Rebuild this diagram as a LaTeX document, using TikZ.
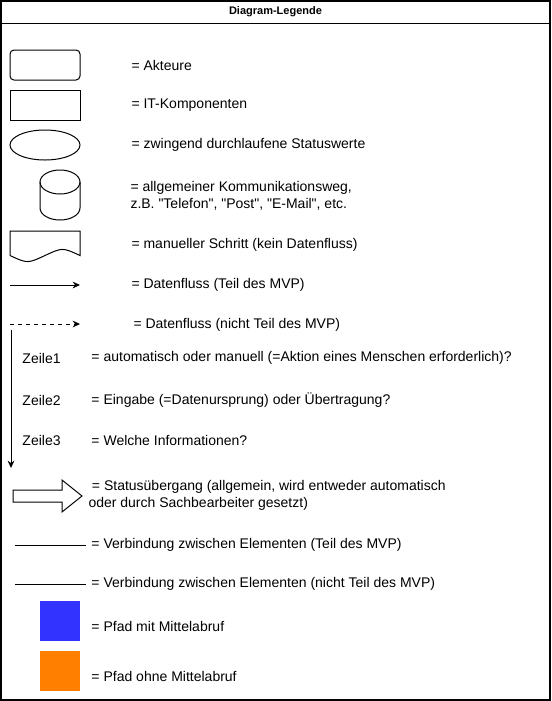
\documentclass[tikz,border=0pt]{standalone}
\usepackage{fontspec}
\setmainfont{Liberation Sans}
\usetikzlibrary{arrows.meta}
\usetikzlibrary{shapes.geometric}
\usetikzlibrary{positioning}

\begin{document}
\begin{tikzpicture}[x=0.75pt, y=-0.75pt, line width=0.75pt, % 1 Einheit = 1 Pixel
    txt/.style={anchor=west, inner sep=0pt, align=left, font=\fontsize{10.5}{12.75}\selectfont},
    symbol/.style={draw, minimum width=52.5pt, minimum height=22.5pt, inner sep=0pt},
    pfeil/.style={-{Stealth[length=5.5pt,width=5pt]}}]
\useasboundingbox (0,0) rectangle (551,701);
% Rahmen und Titel
    \draw[line width=1pt] (1,1) rectangle (550,700);
    \draw (1,23) -- (550,23);
    \node[font=\bfseries\fontsize{8.25}{10}\selectfont] (titel) at (275.5,12) {Diagram-Legende};
    % Symbole
    \node[symbol, rounded corners=3pt] (akteur) at (45,65) {};
    \node[symbol] (itkomp) at (45,105) {};
    \node[symbol, ellipse] (status) at (45,145) {};
    \draw (60,182) ellipse [x radius=20, y radius=12]; % Zylinder
    \draw (40,182) -- (40,208) arc[start angle=180, end angle=0, x radius=20, y radius=12] -- (80,182);
    \draw (10,231) -- (80,231) -- (80,255.5) .. controls (62.5,247.4) .. (45,255.5)
        .. controls (27.5,263.6) .. (10,255.5) -- cycle; % Dokument
    % Pfeile
    \coordinate (df1a) at (10,285); \coordinate (df1b) at (80,285);
    \coordinate (df2a) at (10,324); \coordinate (df2b) at (80,324);
    \coordinate (zeileA) at (11,330); \coordinate (zeileB) at (11,468);
    \draw[pfeil] (df1a) -- (df1b);
    \draw[pfeil, dashed] (df2a) -- (df2b);
    \draw[pfeil] (zeileA) -- (zeileB);
    \draw (13,490) -- (62,490) -- (62,480) -- (82,496) -- (62,512) -- (62,502) -- (13,502) -- cycle; % Statusuebergang
    % Verbindungen
    \foreach \y/\n in {545/vba, 584/vbb} {
        \coordinate (\n1) at (15,\y); \coordinate (\n2) at (86,\y);
        \draw (\n1) -- (\n2);
    }
    % Farbige Pfade
    \fill[fill={rgb,255:red,51;green,51;blue,255}] (40,601) rectangle (80,641);
    \fill[fill={rgb,255:red,255;green,128;blue,0}] (40,651) rectangle (80,691);
    % Beschriftungen
    \node[txt] (t1) at (131,65) {= Akteure};
    \node[txt] (t2) at (131,105) {= IT-Komponenten};
    \node[txt] (t3) at (131,145) {= zwingend durchlaufene Statuswerte};
    \node[txt] (t4) at (130,195.5) {= allgemeiner Kommunikationsweg,\\z.B. \textquotedbl Telefon\textquotedbl, \textquotedbl Post\textquotedbl, \textquotedbl E-Mail\textquotedbl, etc.};
    \node[txt] (t5) at (131,245) {= manueller Schritt (kein Datenfluss)};
    \node[txt] (t6) at (131,285) {= Datenfluss (Teil des MVP)};
    \node[txt] (t7) at (133,325) {= Datenfluss (nicht Teil des MVP)};
    \foreach \i/\y in {1/358, 2/400, 3/440} {
        \node[txt] (zeile\i) at (22,\y) {Zeile\i}; % Zeilen der Pfeilbeschriftung
    }
    \node[txt] (t8) at (91,358) {= automatisch oder manuell (=Aktion eines Menschen erforderlich)?};
    \node[txt] (t9) at (91,400) {= Eingabe (=Datenursprung) oder Übertragung?};
    \node[txt] (t10) at (91,440) {= Welche Informationen?};
    \node[txt] (t11) at (88,495.5) {\hspace{2.6pt}= Statusübergang (allgemein, wird entweder automatisch\\oder durch Sachbearbeiter gesetzt)};
    \node[txt] (t12) at (91,545) {= Verbindung zwischen Elementen (Teil des MVP)};
    \node[txt] (t13) at (91,584) {= Verbindung zwischen Elementen (nicht Teil des MVP)};
    \node[txt] (t14) at (91,626) {= Pfad mit Mittelabruf};
    \node[txt] (t15) at (91,676) {= Pfad ohne Mittelabruf};
\end{tikzpicture}
\end{document}
